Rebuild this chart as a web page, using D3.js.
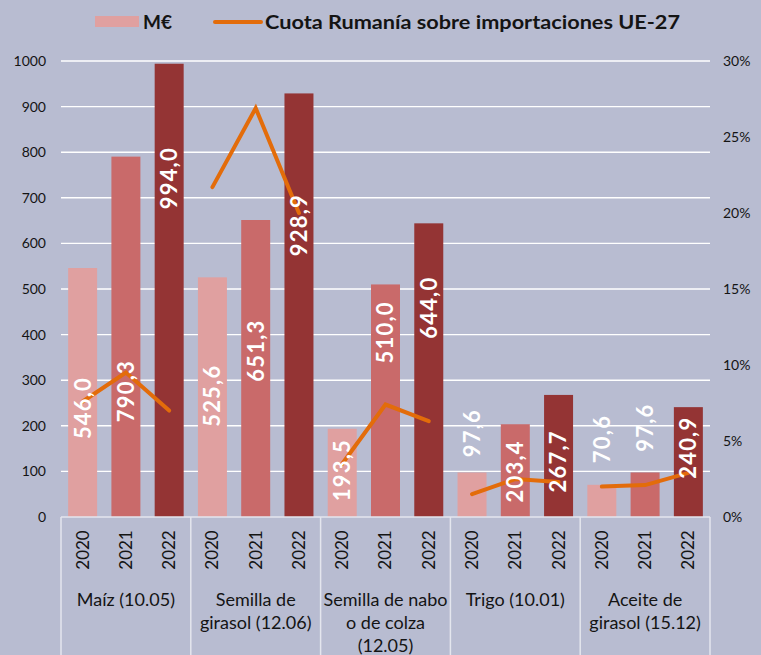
<!DOCTYPE html>
<html>
<head>
<meta charset="utf-8">
<script src="https://cdn.jsdelivr.net/npm/d3@7"></script>
<style>
  html, body { margin: 0; padding: 0; background: #b8bcd1; }
  svg { display: block; font-family: Lato, "Open Sans", sans-serif; }
</style>
</head>
<body>
<svg id="chart" width="761" height="655"></svg>
<script>
// ---- data ----
const categories = [
  ["Maíz (10.05)"],
  ["Semilla de", "girasol (12.06)"],
  ["Semilla de nabo", "o de colza", "(12.05)"],
  ["Trigo (10.01)"],
  ["Aceite de", "girasol (15.12)"]
];
const years = ["2020", "2021", "2022"];
const valuesMEUR = [
  [546.0, 790.3, 994.0],
  [525.6, 651.3, 928.9],
  [193.5, 510.0, 644.0],
  [97.6, 203.4, 267.7],
  [70.6, 97.6, 240.9]
];
const shareRomania = [
  [0.076, 0.095, 0.070],
  [0.217, 0.269, 0.200],
  [0.035, 0.074, 0.063],
  [0.015, 0.025, 0.023],
  [0.020, 0.021, 0.029]
];
// value-axis position (in M€) where each data label is centred, as placed in the original
const labelAnchorMEUR = [
  [239, 276, 743],
  [266, 365, 640],
  [103, 405, 459],
  [184, 100, 122],
  [171, 196, 152]
];
const leftTicks = [0, 100, 200, 300, 400, 500, 600, 700, 800, 900, 1000];
const rightTicks = [0, 0.05, 0.10, 0.15, 0.20, 0.25, 0.30];
const legendBar = "M€";
const legendLine = "Cuota Rumanía sobre importaciones UE-27";

// ---- styles ----
const barColors = ["#e0a0a0", "#c96a6a", "#943434"];
const lineColor = "#e36c0a";
const textColor = "#141414";
const frameColor = "#e4e6ee";

const svg = d3.select("#chart");
const plot = { left: 61, right: 710, top: 61, bottom: 517 };

const x0 = d3.scaleBand().domain(d3.range(categories.length)).range([plot.left, plot.right]).padding(0);
const x1 = d3.scaleBand().domain(years).range([0, x0.bandwidth()]).paddingInner(0.33).paddingOuter(0.165);
const y = d3.scaleLinear().domain([0, 1000]).range([plot.bottom, plot.top]);
const y2 = d3.scaleLinear().domain([0, 0.30]).range([plot.bottom, plot.top]);

// gridlines
svg.append("g").selectAll("line").data(leftTicks.filter(d => d > 0)).join("line")
  .attr("x1", plot.left).attr("x2", plot.right)
  .attr("y1", d => y(d)).attr("y2", d => y(d))
  .attr("stroke", "#ffffff").attr("stroke-width", 1.4);

// left axis labels
svg.append("g").selectAll("text").data(leftTicks).join("text")
  .attr("x", 46).attr("y", d => y(d)).attr("dy", "0.35em")
  .attr("text-anchor", "end").attr("font-size", 14).attr("fill", textColor)
  .text(d => d);

// right axis labels
svg.append("g").selectAll("text").data(rightTicks).join("text")
  .attr("x", 723).attr("y", d => y2(d)).attr("dy", "0.35em")
  .attr("text-anchor", "start").attr("font-size", 14).attr("fill", textColor)
  .text(d => d3.format(".0%")(d));

// bars
const groups = svg.append("g").selectAll("g").data(valuesMEUR).join("g")
  .attr("transform", (d, i) => `translate(${x0(i)},0)`);
groups.selectAll("rect").data(d => d).join("rect")
  .attr("x", (d, j) => x1(years[j]))
  .attr("width", x1.bandwidth())
  .attr("y", d => y(d))
  .attr("height", d => y(0) - y(d))
  .attr("fill", (d, j) => barColors[j]);

// category axis frame
svg.append("line").attr("x1", plot.left).attr("x2", plot.right)
  .attr("y1", plot.bottom).attr("y2", plot.bottom)
  .attr("stroke", frameColor).attr("stroke-width", 1.5);
svg.append("g").selectAll("line").data(d3.range(categories.length + 1)).join("line")
  .attr("x1", i => i < categories.length ? x0(i) : plot.right)
  .attr("x2", i => i < categories.length ? x0(i) : plot.right)
  .attr("y1", plot.bottom).attr("y2", 655)
  .attr("stroke", frameColor).attr("stroke-width", 1.5);

// year labels
const axisG = svg.append("g");
categories.forEach((c, i) => {
  years.forEach(yr => {
    const cx = x0(i) + x1(yr) + x1.bandwidth() / 2;
    axisG.append("text")
      .attr("transform", `translate(${cx},550) rotate(-90)`)
      .attr("text-anchor", "middle").attr("dy", "0.35em")
      .attr("font-size", 17).attr("fill", textColor)
      .text(yr);
  });
  const t = axisG.append("text")
    .attr("text-anchor", "middle").attr("font-size", 18).attr("fill", textColor);
  c.forEach((line, k) => {
    t.append("tspan").attr("x", x0(i) + x0.bandwidth() / 2).attr("y", 606 + k * 22.8).text(line);
  });
});

// share lines (one per category)
const lineGen = d3.line()
  .x((d, j) => x1(years[j]) + x1.bandwidth() / 2)
  .y(d => y2(d));
svg.append("g").selectAll("path").data(shareRomania).join("path")
  .attr("transform", (d, i) => `translate(${x0(i)},0)`)
  .attr("d", lineGen)
  .attr("fill", "none").attr("stroke", lineColor).attr("stroke-width", 4)
  .attr("stroke-linecap", "round").attr("stroke-linejoin", "miter");

// data labels
const fmt = v => d3.format(".1f")(v).replace(".", ",");
const lblG = svg.append("g");
valuesMEUR.forEach((row, i) => {
  row.forEach((v, j) => {
    const cx = x0(i) + x1(years[j]) + x1.bandwidth() / 2;
    lblG.append("text")
      .attr("transform", `translate(${cx},${y(labelAnchorMEUR[i][j])}) rotate(-90)`)
      .attr("text-anchor", "middle").attr("dy", "0.36em")
      .attr("font-size", 22).attr("font-weight", "bold").attr("letter-spacing", 1.2)
      .attr("fill", "#ffffff")
      .text(fmt(v));
  });
});

// legend
const lg = svg.append("g");
lg.append("rect").attr("x", 95).attr("y", 16).attr("width", 44).attr("height", 11).attr("fill", barColors[0]);
lg.append("text").attr("x", 143).attr("y", 22).attr("dy", "0.35em")
  .attr("font-size", 19).attr("font-weight", "bold").attr("fill", textColor).text(legendBar);
lg.append("line").attr("x1", 215).attr("x2", 261).attr("y1", 22).attr("y2", 22)
  .attr("stroke", lineColor).attr("stroke-width", 4).attr("stroke-linecap", "round");
lg.append("text").attr("x", 265).attr("y", 22).attr("dy", "0.35em")
  .attr("font-size", 19).attr("font-weight", "bold").attr("fill", textColor)
  .attr("textLength", 415).attr("lengthAdjust", "spacingAndGlyphs")
  .text(legendLine);
</script>
</body>
</html>
